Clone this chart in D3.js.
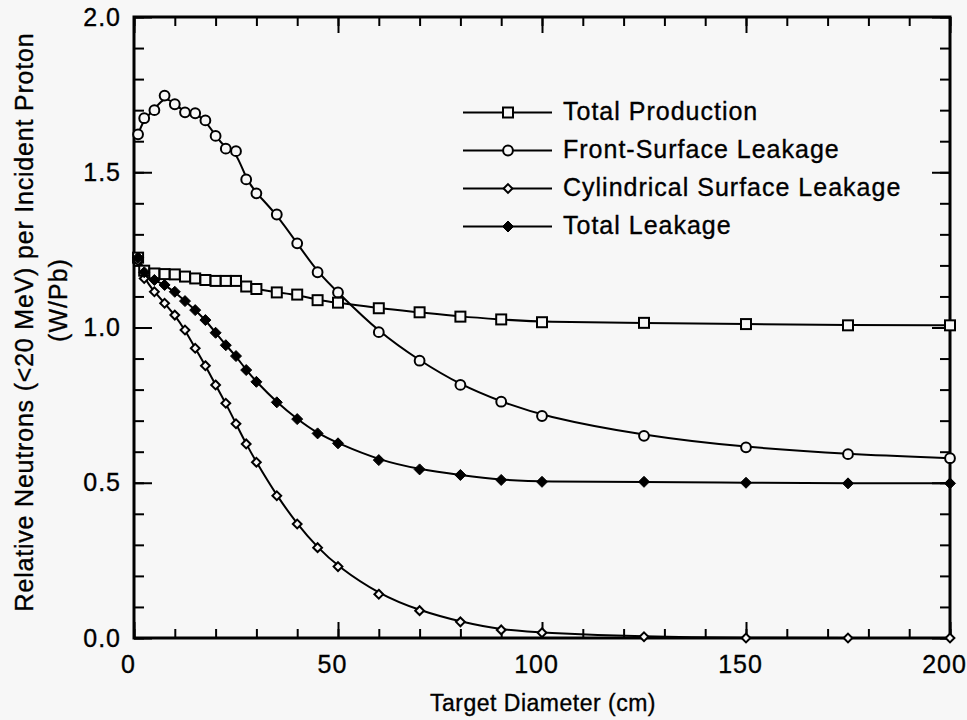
<!DOCTYPE html>
<html>
<head>
<meta charset="utf-8">
<script src="https://cdn.jsdelivr.net/npm/d3@7"></script>
<style>
  html, body { margin: 0; padding: 0; background: #f7f7f7; }
  svg text { font-family: "Liberation Sans", Arial, Helvetica, sans-serif; fill: #000; stroke: #000; stroke-width: 0.35; }
</style>
</head>
<body>
<div id="chart"></div>
<script>
// target diameter (cm), shared by every series
const diameters = [1, 2.5, 5, 7.5, 10, 12.5, 15, 17.5, 20, 22.5, 25, 27.5, 30, 35, 40, 45, 50, 60, 70, 80, 90, 100, 125, 150, 175, 200];

const totalProduction = [1.225, 1.183, 1.174, 1.172, 1.171, 1.164, 1.158, 1.153, 1.150, 1.150, 1.150, 1.132, 1.124, 1.113, 1.106, 1.088, 1.080, 1.062, 1.049, 1.035, 1.026, 1.017, 1.015, 1.011, 1.007, 1.007];
const frontLeakage = [1.622, 1.674, 1.700, 1.747, 1.719, 1.693, 1.690, 1.667, 1.617, 1.576, 1.568, 1.477, 1.432, 1.364, 1.271, 1.178, 1.113, 0.985, 0.893, 0.815, 0.761, 0.715, 0.651, 0.614, 0.592, 0.579];
const cylLeakage = [1.215, 1.158, 1.115, 1.078, 1.040, 0.992, 0.933, 0.877, 0.815, 0.756, 0.690, 0.625, 0.566, 0.458, 0.367, 0.291, 0.230, 0.141, 0.088, 0.052, 0.026, 0.017, 0.004, 0.0, 0.0, 0.0];
const totalLeakage = [1.225, 1.178, 1.153, 1.137, 1.115, 1.085, 1.056, 1.024, 0.983, 0.943, 0.908, 0.863, 0.825, 0.759, 0.705, 0.659, 0.627, 0.573, 0.543, 0.525, 0.509, 0.503, 0.503, 0.500, 0.498, 0.498];

const seriesNames = ["Total Production", "Front-Surface Leakage", "Cylindrical Surface Leakage", "Total Leakage"];
const seriesMarkers = ["square", "circle", "diamond", "filledDiamond"];

const xMajorTicks = [0, 50, 100, 150, 200];
const yMajorTicks = [0, 0.5, 1.0, 1.5, 2.0];

const xLabel = "Target Diameter (cm)";
const yLabel1 = "Relative Neutrons (<20 MeV) per Incident Proton";
const yLabel2 = "(W/Pb)";

const width = 967;
const height = 720;
const plotLeft = 134, plotRight = 950, plotTop = 17, plotBottom = 638;
const bg = "#f7f7f7";

const svg = d3.select("#chart").append("svg")
  .attr("width", width)
  .attr("height", height);

svg.append("rect").attr("width", width).attr("height", height).attr("fill", bg);

const x = d3.scaleLinear().domain([0, 200]).range([plotLeft, plotRight]);
const y = d3.scaleLinear().domain([0, 2]).range([plotBottom, plotTop]);

// axes: ticks point inward on all four sides
function styleAxis(g) {
  g.select(".domain").remove();
  g.selectAll(".tick line").attr("stroke", "#000").attr("stroke-width", 2);
  g.selectAll("text").attr("font-size", 25).attr("letter-spacing", 1).attr("fill", "#000");
}

const minorX = d3.range(0, 201, 10);
const minorY = d3.range(0, 2.01, 0.1);

svg.append("g").attr("transform", `translate(0,${plotBottom})`)
  .call(d3.axisBottom(x).tickValues(minorX).tickSize(-9).tickFormat(""))
  .call(styleAxis);
svg.append("g").attr("transform", `translate(0,${plotBottom})`)
  .call(d3.axisBottom(x).tickValues(xMajorTicks).tickSize(-16).tickPadding(17).tickFormat(d3.format("d")))
  .call(styleAxis)
  .selectAll("text").attr("dx", -6);
svg.append("g").attr("transform", `translate(0,${plotTop})`)
  .call(d3.axisTop(x).tickValues(minorX).tickSize(-9).tickFormat(""))
  .call(styleAxis);
svg.append("g").attr("transform", `translate(0,${plotTop})`)
  .call(d3.axisTop(x).tickValues(xMajorTicks).tickSize(-16).tickFormat(""))
  .call(styleAxis);

svg.append("g").attr("transform", `translate(${plotLeft},0)`)
  .call(d3.axisLeft(y).tickValues(minorY).tickSize(-10).tickFormat(""))
  .call(styleAxis);
svg.append("g").attr("transform", `translate(${plotLeft},0)`)
  .call(d3.axisLeft(y).tickValues(yMajorTicks).tickSize(-18).tickPadding(13).tickFormat(d3.format(".1f")))
  .call(styleAxis);
svg.append("g").attr("transform", `translate(${plotRight},0)`)
  .call(d3.axisRight(y).tickValues(minorY).tickSize(-10).tickFormat(""))
  .call(styleAxis);
svg.append("g").attr("transform", `translate(${plotRight},0)`)
  .call(d3.axisRight(y).tickValues(yMajorTicks).tickSize(-18).tickFormat(""))
  .call(styleAxis);

// frame
svg.append("rect")
  .attr("x", plotLeft).attr("y", plotTop)
  .attr("width", plotRight - plotLeft).attr("height", plotBottom - plotTop)
  .attr("fill", "none").attr("stroke", "#000").attr("stroke-width", 3);

// axis titles
svg.append("text")
  .attr("x", 543).attr("y", 711)
  .attr("text-anchor", "middle")
  .attr("font-size", 23).attr("letter-spacing", 0.5)
  .text(xLabel);

svg.append("text")
  .attr("transform", "translate(33,322) rotate(-90)")
  .attr("text-anchor", "middle")
  .attr("font-size", 25).attr("letter-spacing", 0.8)
  .text(yLabel1);
svg.append("text")
  .attr("transform", "translate(67,300) rotate(-90)")
  .attr("text-anchor", "middle")
  .attr("font-size", 25).attr("letter-spacing", 1)
  .text(yLabel2);

// markers
function drawMarker(g, type, cx, cy) {
  if (type === "square") {
    g.append("rect").attr("x", cx - 5).attr("y", cy - 5).attr("width", 10).attr("height", 10)
      .attr("fill", bg).attr("stroke", "#000").attr("stroke-width", 2);
  } else if (type === "circle") {
    g.append("circle").attr("cx", cx).attr("cy", cy).attr("r", 4.9)
      .attr("fill", bg).attr("stroke", "#000").attr("stroke-width", 2);
  } else if (type === "diamond") {
    const h = 4.4;
    g.append("path").attr("d", `M${cx},${cy - h}L${cx + h},${cy}L${cx},${cy + h}L${cx - h},${cy}Z`)
      .attr("fill", bg).attr("stroke", "#000").attr("stroke-width", 2);
  } else {
    const h = 5.5;
    g.append("path").attr("d", `M${cx},${cy - h}L${cx + h},${cy}L${cx},${cy + h}L${cx - h},${cy}Z`)
      .attr("fill", "#000").attr("stroke", "#000").attr("stroke-width", 1);
  }
}

const allSeries = [totalProduction, frontLeakage, cylLeakage, totalLeakage];

const line = d3.line()
  .x((d, i) => x(diameters[i]))
  .y((d) => y(d))
  .curve(d3.curveBasis);

allSeries.forEach((vals) => {
  svg.append("path")
    .attr("d", line(vals))
    .attr("fill", "none")
    .attr("stroke", "#000")
    .attr("stroke-width", 2);
});

allSeries.forEach((vals, k) => {
  const g = svg.append("g");
  vals.forEach((v, i) => drawMarker(g, seriesMarkers[k], x(diameters[i]), y(v)));
});

// legend
const legend = svg.append("g");
seriesNames.forEach((name, k) => {
  const ly = 112.5 + k * 38;
  legend.append("line")
    .attr("x1", 463).attr("x2", 552)
    .attr("y1", ly).attr("y2", ly)
    .attr("stroke", "#000").attr("stroke-width", 2);
  drawMarker(legend, seriesMarkers[k], 508, ly);
  legend.append("text")
    .attr("x", 563).attr("y", ly + 7)
    .attr("font-size", 25).attr("letter-spacing", 1)
    .text(name);
});
</script>
</body>
</html>
